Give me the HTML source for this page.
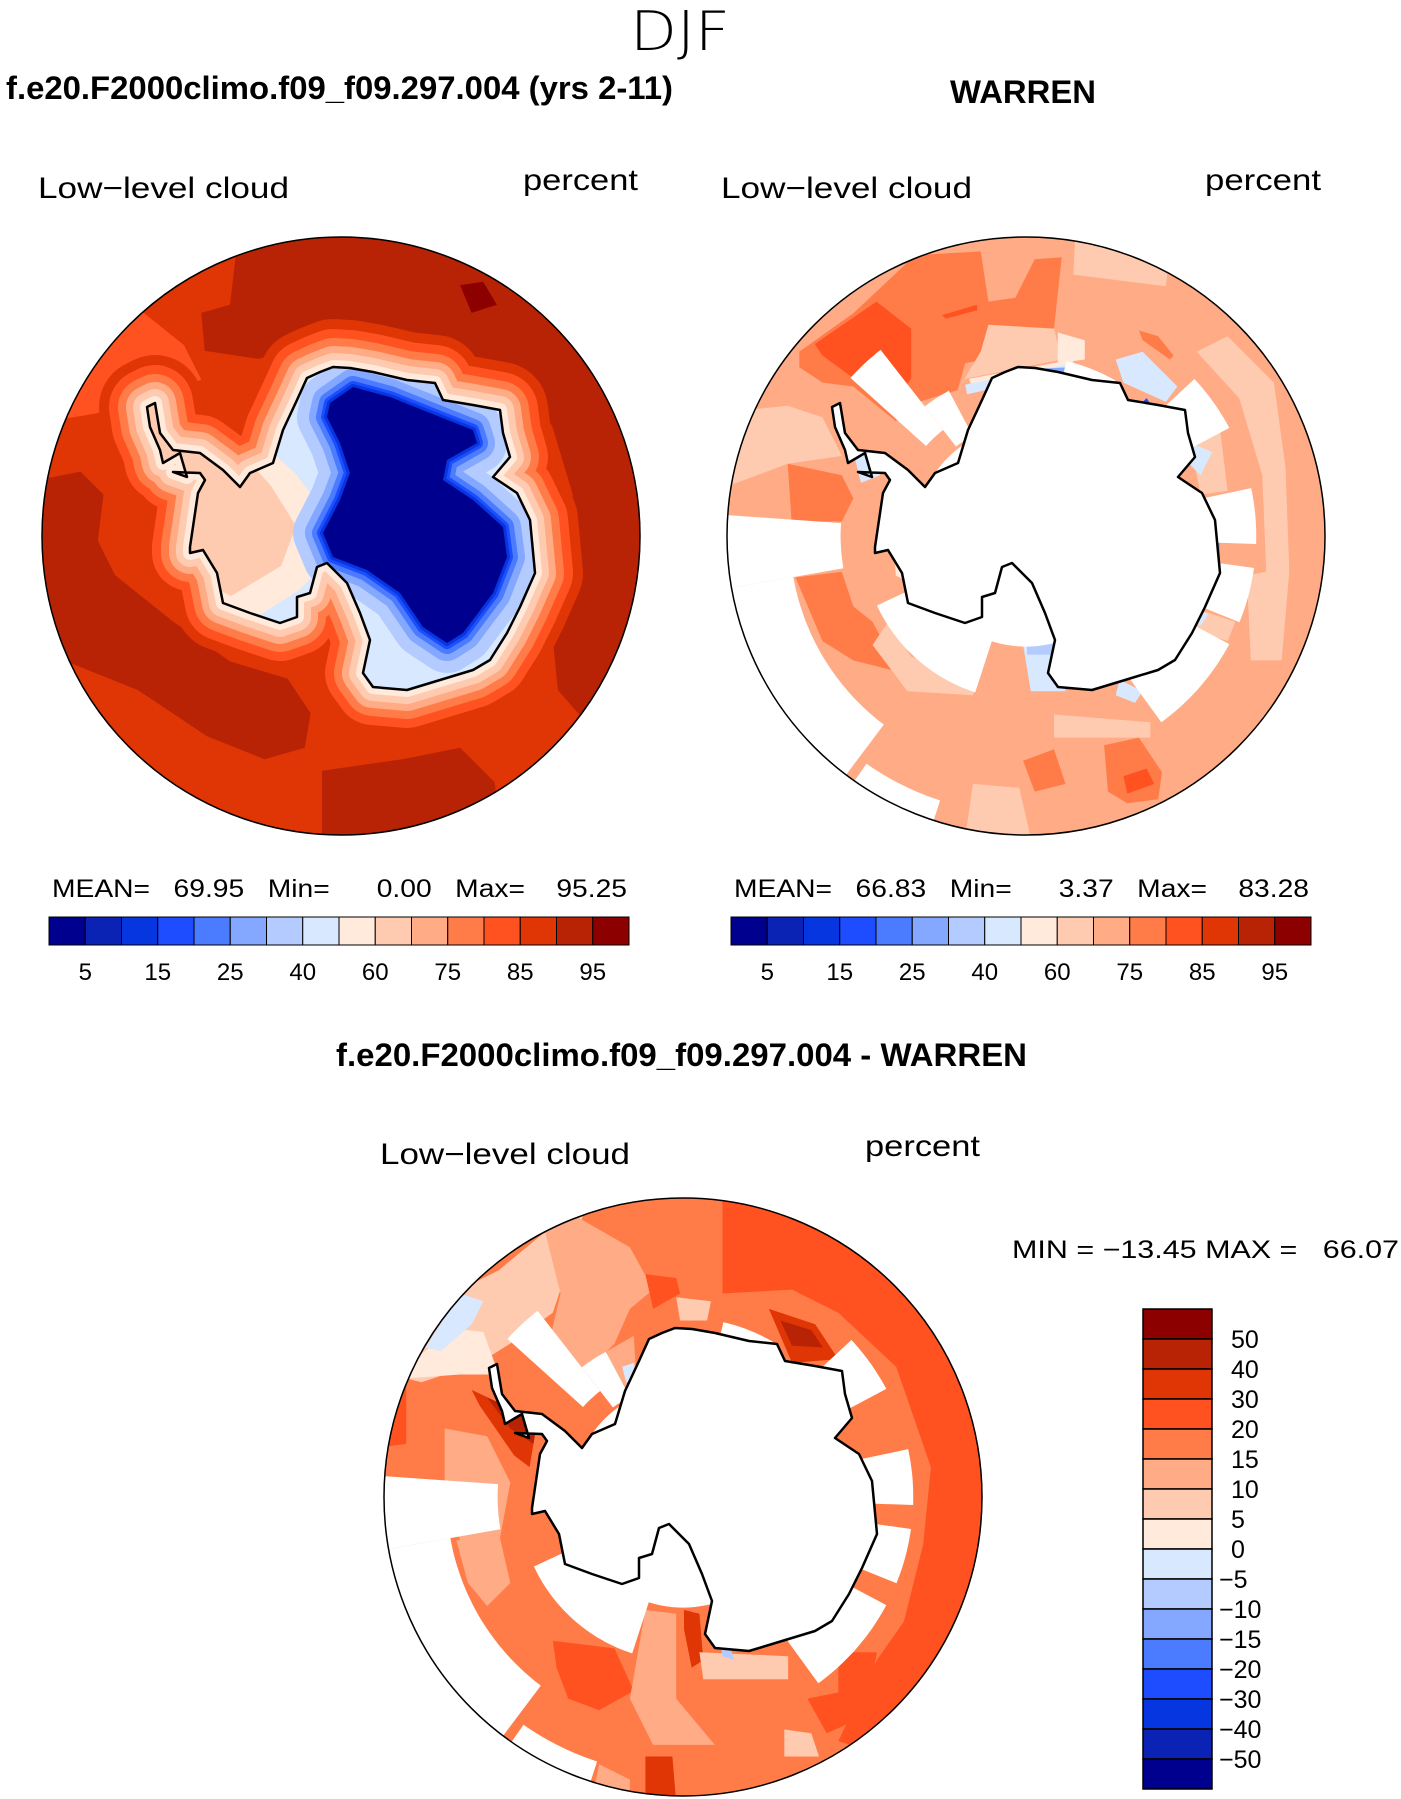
<!DOCTYPE html>
<html><head><meta charset="utf-8"><style>
html,body{margin:0;padding:0;background:#fff;}
svg{display:block;}
text{font-family:"Liberation Sans","DejaVu Sans",sans-serif;}
</style></head><body>
<svg id="fig" width="1401" height="1799" viewBox="0 0 1401 1799" xmlns="http://www.w3.org/2000/svg">
<text x="680" y="50" font-size="54" text-anchor="middle" textLength="100" lengthAdjust="spacingAndGlyphs" font-weight="200" style="font-family:'DejaVu Sans','Liberation Sans',sans-serif">DJF</text>
<text x="6" y="99" font-size="32" font-weight="bold" textLength="667" lengthAdjust="spacingAndGlyphs">f.e20.F2000climo.f09_f09.297.004 (yrs 2-11)</text>
<text x="950" y="103" font-size="32" font-weight="bold" textLength="146" lengthAdjust="spacingAndGlyphs">WARREN</text>
<text x="336" y="1066" font-size="32" font-weight="bold" textLength="691" lengthAdjust="spacingAndGlyphs">f.e20.F2000climo.f09_f09.297.004 - WARREN</text>

<text x="38" y="198" font-size="30" textLength="251" lengthAdjust="spacingAndGlyphs">Low−level cloud</text>
<text x="523" y="190" font-size="30" textLength="115" lengthAdjust="spacingAndGlyphs">percent</text>
<text x="721" y="198" font-size="30" textLength="251" lengthAdjust="spacingAndGlyphs">Low−level cloud</text>
<text x="1205" y="190" font-size="30" textLength="116" lengthAdjust="spacingAndGlyphs">percent</text>
<text x="380" y="1164" font-size="30" textLength="250" lengthAdjust="spacingAndGlyphs">Low−level cloud</text>
<text x="865" y="1156" font-size="30" textLength="115" lengthAdjust="spacingAndGlyphs">percent</text>

<text x="52" y="897" font-size="25" textLength="575" lengthAdjust="spacingAndGlyphs" xml:space="preserve">MEAN=   69.95   Min=      0.00   Max=    95.25</text>
<text x="734" y="897" font-size="25" textLength="575" lengthAdjust="spacingAndGlyphs" xml:space="preserve">MEAN=   66.83   Min=      3.37   Max=    83.28</text>
<text x="1012" y="1258" font-size="25" textLength="387" lengthAdjust="spacingAndGlyphs" xml:space="preserve">MIN = −13.45 MAX =   66.07</text>
<g id="layer"></g>
</svg>
<script>
const NS="http://www.w3.org/2000/svg";
const COLORS=["#00008f","#0a23b4","#0536df","#1d4dff","#4b7bff","#84a8ff","#b4cbff","#d8e8ff","#ffeadb","#ffcbb0","#ffab86","#ff7c49","#ff5220","#e03505","#b82305","#8c0000"];
const absLabels=["5","15","25","40","60","75","85","95"];
const diffLabels=["50","40","30","20","15","10","5","0","−5","−10","−15","−20","−30","−40","−50"];
const panelCenters=[[341,536],[1026,536],[683,1497]];
const R=299;
const coast=[[-34,-158],[-21,-164],[-8,-169],[9,-168],[32,-164],[66,-156],[94,-153],[102,-136],[132,-131],[159,-126],[162,-103],[169,-79],[152,-59],[176,-43],[189,-16],[194,37],[179,71],[166,97],[149,124],[132,134],[99,144],[66,154],[32,151],[22,137],[29,104],[19,77],[6,47],[-14,27],[-24,31],[-31,57],[-44,61],[-44,81],[-61,87],[-91,77],[-118,67],[-124,37],[-138,14],[-151,17],[-151,11],[-143,-43],[-136,-56],[-141,-63],[-168,-64],[-154,-59],[-161,-83],[-178,-73],[-181,-86],[-191,-109],[-194,-129],[-186,-133],[-181,-103],[-168,-86],[-141,-83],[-118,-66],[-101,-49],[-91,-63],[-68,-73],[-58,-106],[-44,-136]];
const iceCore=[[-11,-133],[12,-149],[49,-139],[99,-119],[132,-106],[136,-93],[106,-76],[102,-56],[132,-36],[162,-9],[166,21],[152,57],[122,97],[106,107],[82,91],[59,57],[26,34],[-8,21],[-18,-3],[-1,-36],[9,-63],[-1,-93],[-14,-119]];
const coastBandLevels=[13,12,11,10,9,8];
const coastBandWidths=[48,38,29,21,14,7];
const iceBandLevels=[6,5,4,3,2];
const iceBandWidths=[30,18,11,6,3];
const p1Patches=[
 [14,[[205,150],[205,222],[200,265],[175,272],[178,305],[225,312],[300,292],[390,298],[440,325],[480,370],[498,430],[495,510],[480,550],[485,600],[520,640],[600,640],[600,150]]],
 [14,[[20,420],[70,410],[90,430],[85,470],[100,500],[150,540],[200,575],[250,590],[270,620],[265,650],[230,660],[180,640],[120,600],[20,560]]],
 [14,[[280,670],[350,660],[400,650],[430,680],[440,760],[280,760]]],
 [12,[[20,250],[110,260],[160,300],[175,330],[130,350],[80,360],[20,370]]],
 [15,[[400,248],[420,245],[432,265],[410,272]]]
];
// inland warm region over the peninsula / west (relative coords)
const p1InlandOuter=[[-210,-150],[-150,-150],[-90,-95],[-50,-60],[-20,-20],[-15,20],[-45,50],[-100,85],[-170,60],[-215,-60]];
const p1InlandInner=[[-200,-140],[-160,-140],[-110,-95],[-70,-50],[-45,-10],[-60,30],[-110,60],[-150,40],[-200,-60]];
const p2Patches=[
[11,[[190,300],[330,200],[490,50],[660,40],[680,170],[750,160],[800,60],[870,55],[850,240],[770,300],[620,330],[600,400],[500,430],[440,480],[330,390],[250,380],[190,340]]],
[12,[[230,280],[390,170],[480,240],[480,370],[440,420],[360,390],[250,310]]],
[12,[[560,205],[650,178],[652,192],[570,214]]],
[11,[[1070,245],[1120,260],[1160,310],[1150,320],[1080,270]]],
[11,[[160,590],[300,620],[330,680],[300,740],[170,740]]],
[11,[[180,885],[300,870],[330,960],[380,1000],[450,1130],[330,1100],[250,1050]]],
[9,[[905,0],[1150,40],[1140,130],[900,100]]],
[9,[[0,560],[60,450],[160,440],[250,470],[300,570],[160,590],[0,650]]],
[9,[[1300,260],[1420,380],[1450,600],[1460,870],[1440,1100],[1360,1100],[1350,880],[1400,870],[1390,620],[1330,420],[1220,300]]],
[9,[[640,1420],[760,1430],[790,1560],[620,1560]]],
[9,[[850,1240],[1100,1260],[1100,1300],[850,1300]]],
[9,[[680,230],[850,240],[870,320],[620,370],[600,400],[660,300]]],
[9,[[420,1000],[480,1090],[650,1160],[640,1190],[470,1180],[380,1060]]],
[9,[[1200,520],[1280,500],[1300,660],[1230,670]]],
[9,[[1200,960],[1320,1000],[1300,1050],[1210,1020]]],
[8,[[630,370],[900,320],[900,345],[640,400]]],
[8,[[860,250],[930,270],[930,320],[860,330]]],
[7,[[620,385],[900,330],[900,350],[625,410]]],
[7,[[1010,320],[1080,300],[1170,390],[1140,430],[1030,380]]],
[7,[[770,1060],[860,1060],[880,1180],[790,1180]]],
[7,[[1190,530],[1260,560],[1230,620],[1200,590]]],
[7,[[1200,960],[1250,980],[1230,1010],[1190,990]]],
[7,[[1020,1150],[1080,1180],[1060,1210],[1010,1190]]],
[5,[[790,345],[890,340],[890,378],[790,360]]],
[3,[[1050,460],[1090,420],[1110,450],[1070,490]]],
[5,[[1240,795],[1280,795],[1280,840],[1240,840]]],
[6,[[780,1055],[860,1050],[860,1085],[780,1085]]],
[3,[[460,820],[490,830],[515,905],[485,915]]],
[11,[[770,1360],[850,1330],[880,1420],[800,1440]]],
[11,[[980,1320],[1070,1300],[1130,1390],[1120,1460],[1040,1470],[990,1440]]],
[12,[[1030,1400],[1090,1380],[1110,1420],[1040,1445]]],
[7,[[330,560],[390,570],[400,620],[350,640]]],
[8,[[430,730],[480,730],[480,900],[440,880]]]
];
const p3Patches=[
[12,[[880,-50],[1650,-50],[1650,1650],[1210,1420],[1180,1410],[1280,1200],[1350,1100],[1400,900],[1420,700],[1330,440],[1180,300],[1060,240],[880,250]]],
[9,[[60,470],[200,240],[300,190],[420,90],[520,40],[500,120],[440,300],[330,380],[250,430],[100,480]]],
[10,[[420,90],[500,50],[640,130],[700,240],[640,290],[600,380],[500,480],[430,380],[460,250]]],
[8,[[60,440],[180,340],[260,350],[300,460],[200,460],[60,470]]],
[7,[[110,390],[200,250],[260,270],[230,330],[150,400]]],
[12,[[-20,470],[60,470],[60,640],[-20,650]]],
[12,[[680,200],[760,210],[770,250],[700,290]]],
[13,[[230,500],[400,580],[380,700],[340,670],[250,540]]],
[14,[[270,520],[400,575],[390,640],[330,600]]],
[10,[[160,600],[270,620],[330,740],[300,900],[200,890],[160,760]]],
[13,[[440,740],[490,735],[520,910],[480,920]]],
[14,[[470,820],[495,830],[520,910],[490,915]]],
[10,[[190,890],[300,870],[330,1000],[270,1060],[220,1000]]],
[12,[[440,1150],[600,1170],[650,1280],[560,1330],[480,1300],[450,1220]]],
[10,[[680,1070],[760,1080],[760,1300],[860,1420],[700,1420],[640,1300]]],
[13,[[780,1070],[820,1080],[830,1200],[800,1220],[780,1120]]],
[9,[[820,1180],[1050,1190],[1050,1250],[830,1250]]],
[9,[[1040,1380],[1110,1390],[1130,1450],[1040,1450]]],
[13,[[1000,290],[1120,330],[1180,420],[1060,430]]],
[14,[[1030,320],[1110,345],[1140,390],[1060,385]]],
[10,[[560,1470],[640,1510],[640,1570],[540,1570]]],
[13,[[680,1450],[750,1450],[760,1570],[680,1570]]],
[9,[[760,260],[850,270],[840,320],[770,320]]],
[10,[[580,400],[650,360],[660,520],[600,540]]],
[7,[[620,440],[650,430],[660,480],[630,480]]],
[6,[[860,1090],[880,1100],[910,1200],[880,1190]]],
[12,[[1180,1180],[1280,1180],[1260,1290],[1180,1290]]],
[12,[[1100,1300],[1250,1270],[1240,1350],[1150,1390]]]
];
const maskSectors=[[170,184,0.62,1.02],[127,170,0.79,1.02],[108,125,0.93,1.02],[222,232,0.45,0.79],[232,242,0.38,0.55],[283,300,0.45,0.6],[317,332,0.55,0.77],[348,362,0.55,0.77],[8,22,0.55,0.77],[28,54,0.55,0.77],[108,155,0.3,0.55]];
const maskCore=0.37;
const ZS=600/1555, DISP=1401/1218;

const layer=document.getElementById('layer');
const defs=document.createElementNS(NS,'defs');layer.appendChild(defs);
function mk(tag,attrs,parent){const e=document.createElementNS(NS,tag);for(const k in attrs)e.setAttribute(k,attrs[k]);(parent||layer).appendChild(e);return e;}
function pstr(pts){return pts.map(p=>p[0].toFixed(1)+','+p[1].toFixed(1)).join(' ');}
function rel(pts,c){return pts.map(p=>[p[0]+c[0],p[1]+c[1]]);}
function zoomPts(pts,c){return pts.map(p=>[c[0]-300+p[0]*ZS,c[1]-300+p[1]*ZS]);}
function dispPts(pts){return pts.map(p=>[p[0]*DISP,p[1]*DISP]);}
function sectorPath(c,a1,a2,r1,r2){const pts=[];for(let a=a1;a<=a2+0.01;a+=1){const t=a*Math.PI/180;pts.push([c[0]+r2*R*Math.cos(t),c[1]+r2*R*Math.sin(t)]);}
 for(let a=a2;a>=a1-0.01;a-=1){const t=a*Math.PI/180;pts.push([c[0]+r1*R*Math.cos(t),c[1]+r1*R*Math.sin(t)]);}return pts;}
function makeClip(id,c){const cp=mk('clipPath',{id:id},defs);mk('circle',{cx:c[0],cy:c[1],r:R},cp);}

(function(){
 const c=panelCenters[0];makeClip('clip1',c);
 const g=mk('g',{'clip-path':'url(#clip1)'});
 
 
 mk('circle',{cx:c[0],cy:c[1],r:R,fill:COLORS[13]},g);
 p1Patches.forEach(p=>{const e=mk('polygon',{points:pstr(dispPts(p[1])),fill:COLORS[p[0]]},g);
  
  });
 const cpts=pstr(rel(coast,c));
 coastBandLevels.forEach((lv,i)=>{const e=mk('polygon',{points:cpts,fill:COLORS[lv],stroke:COLORS[lv],'stroke-width':coastBandWidths[i]*2,'stroke-linejoin':'round'},g);
  
  });
 const cc=mk('clipPath',{id:'cont1'},defs);mk('polygon',{points:cpts},cc);
 const gi=mk('g',{'clip-path':'url(#cont1)'},g);
 mk('polygon',{points:cpts,fill:COLORS[7]},gi);
 mk('polygon',{points:pstr(rel(p1InlandOuter,c)),fill:COLORS[8],stroke:COLORS[8],'stroke-width':10,'stroke-linejoin':'round'},gi);
 mk('polygon',{points:pstr(rel(p1InlandInner,c)),fill:COLORS[9]},gi);
 const ip=pstr(rel(iceCore,c));
 iceBandLevels.forEach((lv,i)=>{const e=mk('polygon',{points:ip,fill:COLORS[lv],stroke:COLORS[lv],'stroke-width':iceBandWidths[i]*2,'stroke-linejoin':'round'},gi);
  
  });
 const core=mk('polygon',{points:ip,fill:COLORS[0]},gi);
 
 
 const cl=mk('polygon',{points:cpts,fill:'none',stroke:'#000','stroke-width':2.5,'stroke-linejoin':'round'},g);
 
 
 const o=mk('circle',{cx:c[0],cy:c[1],r:R,fill:'none',stroke:'#000','stroke-width':1.5});
 
 
})();

function drawBlocky(idx,baseLevel,patches){
 const c=panelCenters[idx];const id='clipb'+idx;makeClip(id,c);
 const g=mk('g',{'clip-path':'url(#'+id+')'});
 
 
 mk('circle',{cx:c[0],cy:c[1],r:R,fill:COLORS[baseLevel]},g);
 patches.forEach(p=>{const e=mk('polygon',{points:pstr(zoomPts(p[1],c)),fill:COLORS[p[0]]},g);
  
  });
 maskSectors.forEach(s=>{const e=mk('polygon',{points:pstr(sectorPath(c,s[0],s[1],s[2],s[3])),fill:'#fff'},g);
  
  });
 mk('circle',{cx:c[0],cy:c[1],r:maskCore*R,fill:'#fff'},g);
 const cpts=pstr(rel(coast,c));
 mk('polygon',{points:cpts,fill:'#fff'},g);
 const cl=mk('polygon',{points:cpts,fill:'none',stroke:'#000','stroke-width':2.5,'stroke-linejoin':'round'},g);
 
 
 const o=mk('circle',{cx:c[0],cy:c[1],r:R,fill:'none',stroke:'#000','stroke-width':1.5});
 
 
}
drawBlocky(1,10,p2Patches);
drawBlocky(2,11,p3Patches);

[[49,629],[731,1311]].forEach((b,k)=>{
 const w=(b[1]-b[0])/16;
 const g=mk('g',{});
 
 
 COLORS.forEach((col,i)=>{const r=mk('rect',{x:b[0]+i*w,y:917,width:w,height:28,fill:col,stroke:'#000','stroke-width':1},g);
  
  });
 absLabels.forEach((t,i)=>{const e=mk('text',{x:b[0]+(2*i+1)*w,y:980,'font-size':24,'text-anchor':'middle'},g);e.textContent=t;
  
  });
});
(function(){
 const g=mk('g',{});
 
 
 const h=30;
 for(let i=0;i<16;i++){const r=mk('rect',{x:1143,y:1309+i*h,width:69,height:h,fill:COLORS[15-i],stroke:'#000','stroke-width':1.5},g);
  
  }
 diffLabels.forEach((t,i)=>{const e=mk('text',{x:t.startsWith('−')?1219:1231,y:1309+(i+1)*h+9,'font-size':25},g);e.textContent=t;
  
  });
})();
</script>
</body></html>
